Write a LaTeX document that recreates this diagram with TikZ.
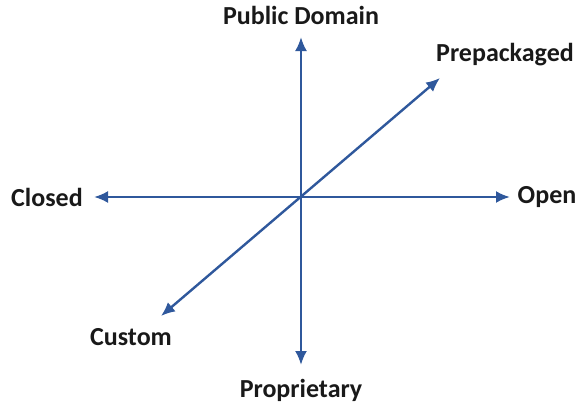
\documentclass[tikz,border=0pt]{standalone}
\usepackage{fontspec}
\setmainfont{Carlito}
\usetikzlibrary{arrows.meta}
\definecolor{axisblue}{RGB}{47,88,156}
\begin{document}
\begin{tikzpicture}[x=1pt, y=-1pt,
    axis/.style={draw=axisblue, line width=2.4pt, {Latex[length=14pt,width=12pt]}-{Latex[length=14pt,width=12pt]}},
    lbl/.style={font=\bfseries\fontsize{26}{30}\selectfont, text=black!90, inner sep=0pt}]
    \useasboundingbox (0,0) rectangle (584,408);

    \coordinate (O) at (301,197);
    \coordinate (top) at (301,37);
    \coordinate (bottom) at (301,365);
    \coordinate (left) at (94,197);
    \coordinate (right) at (510,197);
    \coordinate (ne) at (440,78);
    \coordinate (sw) at (161,316);

    \draw[axis] (bottom) -- (top);
    \draw[axis] (left) -- (right);
    \draw[axis] (sw) -- (ne);

    \node[lbl] (public) at (301,15) {Public Domain};
    \node[lbl] (prop) at (301,390) {Proprietary};
    \node[lbl] (closed) at (47,197) {Closed};
    \node[lbl] (open) at (547,197) {Open};
    \node[lbl] (prepack) at (505,55) {Prepackaged};
    \node[lbl] (custom) at (131,337) {Custom};
\end{tikzpicture}
\end{document}
